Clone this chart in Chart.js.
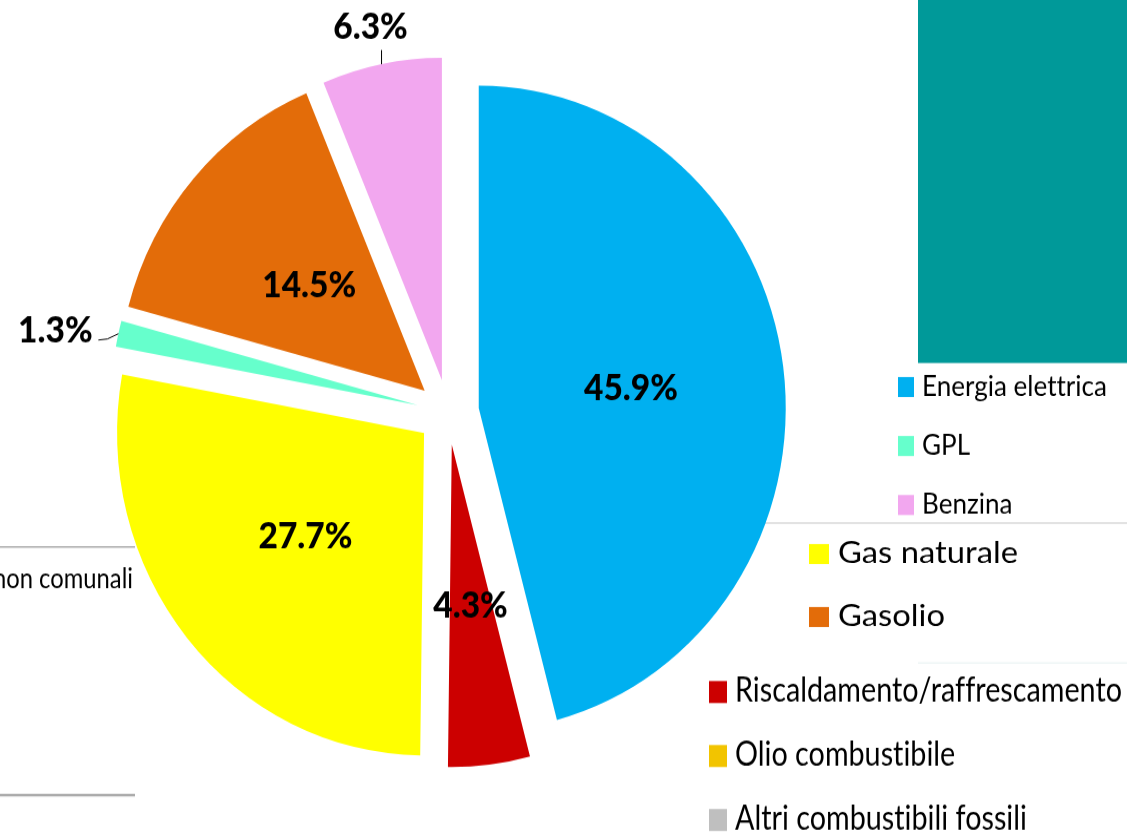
<!DOCTYPE html>
<html lang="it">
<head>
<meta charset="UTF-8">
<title>Consumi per vettore energetico</title>
<script src="https://cdn.jsdelivr.net/npm/chart.js"></script>
<style>
  html, body { margin: 0; padding: 0; background: #fff; overflow: hidden; }
  #page { width: 1127px; height: 835px; overflow: hidden; }
  /* the original picture is stretched a little in height */
  #pie { display: block; transform: scaleY(1.0503); transform-origin: 0 0; }
</style>
</head>
<body>
<div id="page"><canvas id="pie" width="1127" height="795"></canvas></div>
<script>
const categories = ['Energia elettrica', 'Riscaldamento/raffrescamento', 'Gas naturale', 'GPL', 'Gasolio', 'Benzina', 'Olio combustibile', 'Altri combustibili fossili'];
const shares = [45.9, 4.3, 27.7, 1.3, 14.5, 6.3, 0, 0];
const colors = ['#00B0F0', '#CC0000', '#FFFF00', '#66FFCC', '#E36C09', '#F2A7EF', '#F2C400', '#BFBFBF'];

// the legend is split in three blocks in the original
const legendA = ['Energia elettrica', 'GPL', 'Benzina'];
const legendB = ['Gas naturale', 'Gasolio'];
const legendC = ['Riscaldamento/raffrescamento', 'Olio combustibile', 'Altri combustibili fossili'];

const SY = 835 / 795;
const sy = v => v / SY;   // screen y -> canvas y
const EXPLODE = 31;       // every slice is pulled out by the same distance

function setFont(ctx, size, weight) {
    ctx.font = `${weight} ${size}px Lato`;
    // no tt / ti ligatures
    ctx.textRendering = 'optimizeSpeed';
    ctx.letterSpacing = '0.01px';
}

function drawText(ctx, str, x, base, size, weight, sx, align) {
    ctx.save();
    setFont(ctx, size, weight);
    ctx.textBaseline = 'alphabetic';
    ctx.textAlign = 'left';
    const w = ctx.measureText(str).width * sx;
    const x0 = align === 'center' ? x - w / 2 : align === 'right' ? x - w : x;
    ctx.translate(x0, base);
    ctx.scale(sx, 1);
    ctx.fillStyle = '#000';
    ctx.fillText(str, 0, 0);
    ctx.restore();
}

function fitScale(ctx, str, size, weight, width) {
    ctx.save();
    setFont(ctx, size, weight);
    const s = width / ctx.measureText(str).width;
    ctx.restore();
    return s;
}

const blocks = [
    { items: legendA, boxX: 898, boxW: 16, boxH: 20, textX: 922, base: 396, step: 59, size: 27.9, ref: 'Energia elettrica', refW: 185 },
    { items: legendB, boxX: 809, boxW: 20, boxH: 20, textX: 838, base: 563, step: 63, size: 29.6, ref: 'Gas naturale', refW: 180 },
    { items: legendC, boxX: 709, boxW: 18, boxH: 22, textX: 735, base: 702, step: 64, size: 31.9, ref: 'Riscaldamento/raffrescamento', refW: 387 }
];

// leader lines for the two labels that sit outside the pie (relative to the arc edge)
const callouts = {
    'Benzina': { line: [[0, 0], [0, -13.5]], text: [-11, -24] },
    'GPL': { line: [[0, 0], [-11, 5], [-20, 6]], text: [-63, 8] }
};

// chart.js "offset" only moves a slice by offset/4 and also grows it, so push slices out here
const explode = {
    id: 'explode',
    afterUpdate(chart) {
        chart.getDatasetMeta(0).data.forEach(arc => {
            if (arc._exploded) return;
            const draw = arc.draw;
            arc.draw = function (ctx) {
                const mid = (this.startAngle + this.endAngle) / 2;
                ctx.save();
                ctx.translate(Math.cos(mid) * EXPLODE, Math.sin(mid) * EXPLODE);
                draw.call(this, ctx);
                ctx.restore();
            };
            arc._exploded = true;
        });
    }
};

const backdrop = {
    id: 'backdrop',
    beforeDraw(chart) {
        const ctx = chart.ctx;
        ctx.save();
        ctx.fillStyle = '#009999';
        ctx.fillRect(918, 0, 209, sy(363));
        ctx.strokeStyle = '#D9D9D9';
        ctx.lineWidth = 1.5;
        ctx.beginPath();
        ctx.moveTo(765, sy(523)); ctx.lineTo(1127, sy(523));
        ctx.stroke();
        ctx.strokeStyle = '#EEF5F5';
        ctx.beginPath();
        ctx.moveTo(918, sy(663)); ctx.lineTo(1127, sy(663));
        ctx.stroke();
        ctx.strokeStyle = '#AAAAAA';
        ctx.beginPath();
        ctx.moveTo(0, sy(547)); ctx.lineTo(135, sy(547));
        ctx.stroke();
        ctx.lineWidth = 2.5;
        ctx.beginPath();
        ctx.moveTo(0, sy(795)); ctx.lineTo(135, sy(795));
        ctx.stroke();
        ctx.beginPath();
        ctx.rect(0, 0, 135, 795);
        ctx.clip();
        const k = fitScale(ctx, 'non comunali', 27.9, 400, 140);
        drawText(ctx, 'non comunali', 133, sy(588), 27.9, 400, k, 'right');
        ctx.restore();
    }
};

const sliceLabels = {
    id: 'sliceLabels',
    afterDatasetsDraw(chart) {
        const ctx = chart.ctx;
        const size = 34.5;
        const k = fitScale(ctx, '45.9%', size, 900, 94);
        chart.getDatasetMeta(0).data.forEach((arc, i) => {
            if (!shares[i]) return;
            const p = arc.getProps(['x', 'y', 'startAngle', 'endAngle', 'outerRadius'], true);
            const mid = (p.startAngle + p.endAngle) / 2;
            const dx = Math.cos(mid), dy = Math.sin(mid);
            const label = shares[i].toFixed(1) + '%';
            const c = callouts[categories[i]];
            if (c) {
                const ex = p.x + dx * (EXPLODE + p.outerRadius);
                const ey = p.y + dy * (EXPLODE + p.outerRadius);
                ctx.save();
                ctx.strokeStyle = '#000';
                ctx.lineWidth = 1;
                ctx.beginPath();
                c.line.forEach(([lx, ly], j) => j ? ctx.lineTo(ex + lx, ey + ly) : ctx.moveTo(ex + lx, ey + ly));
                ctx.stroke();
                ctx.restore();
                drawText(ctx, label, ex + c.text[0], ey + c.text[1], size, 900, k, 'center');
            } else {
                const r = EXPLODE + 0.5 * p.outerRadius;
                drawText(ctx, label, p.x + dx * r, p.y + dy * r + size * 0.36, size, 900, k, 'center');
            }
        });
    }
};

const splitLegend = {
    id: 'splitLegend',
    afterDraw(chart) {
        const ctx = chart.ctx;
        blocks.forEach(b => {
            const k = fitScale(ctx, b.ref, b.size, 400, b.refW);
            b.items.forEach((name, j) => {
                const base = b.base + j * b.step;
                ctx.fillStyle = colors[categories.indexOf(name)];
                ctx.fillRect(b.boxX, sy(base + 1 - b.boxH), b.boxW, sy(b.boxH));
                drawText(ctx, name, b.textX, sy(base), b.size, 400, k, 'left');
            });
        });
    }
};

new Chart(document.getElementById('pie'), {
    type: 'pie',
    data: {
        labels: categories,
        datasets: [{
            data: shares,
            backgroundColor: colors,
            borderWidth: 0,
            offset: 0
        }]
    },
    options: {
        responsive: false,
        animation: false,
        devicePixelRatio: 1,
        events: [],
        radius: 307,
        layout: { padding: { left: 0, top: 0, right: 231, bottom: 10 } },
        plugins: {
            legend: { display: false },
            tooltip: { enabled: false }
        }
    },
    plugins: [explode, backdrop, sliceLabels, splitLegend]
});
</script>
</body>
</html>
